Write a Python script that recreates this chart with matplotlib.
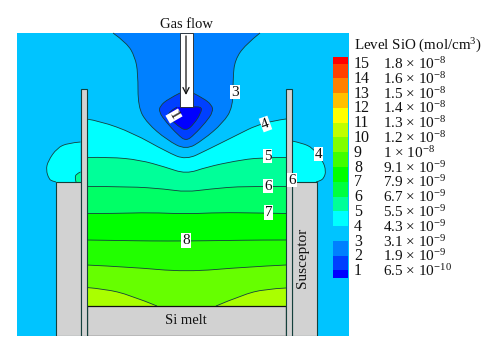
from matplotlib import pyplot as plt
from matplotlib.path import Path
from matplotlib.patches import PathPatch

plt.rcParams['font.family'] = ['Liberation Serif', 'DejaVu Serif']
plt.rcParams['mathtext.default'] = 'regular'
plt.rcParams['font.size'] = 10.5

# colour legend
level_ids = [15, 14, 13, 12, 11, 10, 9, 8, 7, 6, 5, 4, 3, 2, 1]
level_text = ["1.8 × 10$^{-8}$", "1.6 × 10$^{-8}$", "1.5 × 10$^{-8}$", "1.4 × 10$^{-8}$",
              "1.3 × 10$^{-8}$", "1.2 × 10$^{-8}$", "1 × 10$^{-8}$", "9.1 × 10$^{-9}$",
              "7.9 × 10$^{-9}$", "6.7 × 10$^{-9}$", "5.5 × 10$^{-9}$", "4.3 × 10$^{-9}$",
              "3.1 × 10$^{-9}$", "1.9 × 10$^{-9}$", "6.5 × 10$^{-10}$"]
band_colors = ["#ff0000", "#ff4000", "#ff8000", "#ffc000", "#ffff00", "#bfff00", "#80ff00", "#40ff00",
               "#00ff00", "#00ff40", "#00ff99", "#00ffff", "#00c4ff", "#0080ff", "#0040ff", "#0000ff"]
band_edges = [57, 64.3, 78.3, 93.3, 107.7, 122.7, 137.3, 152.3, 167, 181.7, 196.7,
              211.3, 226.3, 241, 255.7, 270, 278]

# contour outlines, in image pixels
c3_x = [113, 127, 135, 138, 138, 147, 167, 186, 203, 223, 233, 233, 235, 245, 260]
c3_y = [33, 43, 57, 73, 107, 123, 140, 150, 140, 123, 107, 77, 60, 45, 33]
c2_x = [180, 168, 160, 159, 166, 178, 186, 194, 206, 213, 212, 203, 193]
c2_y = [93, 99, 106, 112, 122, 135, 141, 135, 122, 112, 105, 98, 93]
c1_x = [177, 168, 169, 178, 186, 194, 201, 202, 193]
c1_y = [107, 112, 118, 126, 131, 124, 113, 106, 107]

bump_l_x = [80.5, 68, 57, 48, 46, 49, 52, 56]
bump_l_y = [142, 143, 148, 161, 170, 179, 181, 182]
bump_r_x = [292, 302, 313, 323, 326, 324, 320, 316]
bump_r_y = [141, 143, 148, 161, 171, 178, 181, 182]
patch_l_x = [80.5, 76, 75, 76]
patch_l_y = [172, 174, 178, 182]

lev4_x = [86.5, 100, 133, 167, 186, 207, 233, 263, 286]
lev4_y = [119, 121, 133, 152, 160, 150, 137, 122, 119]
lev5_x = [86.5, 110, 140, 165, 186, 207, 235, 260, 286]
lev5_y = [157.5, 157, 160, 167, 174, 167, 161, 157.5, 157.5]
lev6_x = [86.5, 130, 165, 186, 210, 245, 286]
lev6_y = [186.5, 186.5, 189, 192, 189, 186, 186.5]
lev7_x = [86.5, 115, 150, 186, 220, 260, 286]
lev7_y = [213.5, 213.5, 212.5, 214, 212.5, 213, 213.5]
lev8_x = [86.5, 120, 150, 186, 225, 260, 286]
lev8_y = [240, 240.5, 241, 241, 240.5, 240, 240]
lev9_x = [86.5, 130, 186, 245, 286]
lev9_y = [265, 267, 272, 267, 265]
lev10_l_x = [86.5, 105, 130, 157]
lev10_l_y = [287.5, 289, 295, 306]
lev10_r_x = [216, 242, 265, 286]
lev10_r_y = [306, 295, 289, 288]

# labels on the contours: text, x, y, rotation
contour_labels = [("3", 235, 92, 0), ("4", 265.5, 124, 20), ("5", 267.5, 156, 0), ("4", 318.5, 154, 0),
                  ("6", 268, 186, 0), ("6", 292, 180, 0), ("7", 268.5, 212.5, 0), ("8", 186, 240.5, 0),
                  ("1", 174, 116, -60)]

edge = "#14403c"
gray = "#d2d2d2"
melt_y = 306
floor_y = 335.5


def curve(xs, ys, tail_x=(), tail_y=()):
    # quadratic curve through the outline points, then straight to the tail points
    verts = [(xs[0], ys[0])]
    codes = [Path.MOVETO]
    for i in range(1, len(xs) - 1):
        if i < len(xs) - 2:
            end = ((xs[i] + xs[i + 1]) / 2, (ys[i] + ys[i + 1]) / 2)
        else:
            end = (xs[i + 1], ys[i + 1])
        verts += [(xs[i], ys[i]), end]
        codes += [Path.CURVE3, Path.CURVE3]
    for x, y in zip(tail_x, tail_y):
        verts.append((x, y))
        codes.append(Path.LINETO)
    return Path(verts, codes)


def zone(ax, xs, ys, col, tail_x=(), tail_y=()):
    ax.add_patch(PathPatch(curve(xs, ys, tail_x, tail_y), fc=col, ec="none", lw=0))
    ax.add_patch(PathPatch(curve(xs, ys), fc="none", ec=edge, lw=0.6))


fig = plt.figure(figsize=(5, 3.53), dpi=100)
ax = fig.add_axes([0, 0, 1, 1])
ax.set_xlim(0, 500)
ax.set_ylim(353, 0)
ax.axis("off")

# flow domain
ax.fill([17, 349, 349, 17], [33, 33, floor_y, floor_y], color="#00c4ff", lw=0)

# blue zones round the tube
zone(ax, c3_x, c3_y, "#0080ff")
zone(ax, c2_x, c2_y, "#0040ff")
zone(ax, c1_x, c1_y, "#0000ff")

# zones above the susceptor
zone(ax, bump_l_x, bump_l_y, "#00ffff", [80.5], [182])
zone(ax, bump_r_x, bump_r_y, "#00ffff", [292], [182])
zone(ax, patch_l_x, patch_l_y, "#00ff99", [80.5], [182])

# stacked zones inside the crucible
stack = [(lev4_x, lev4_y, "#00ffff"), (lev5_x, lev5_y, "#00ff99"), (lev6_x, lev6_y, "#00ff66"),
         (lev7_x, lev7_y, "#00ff00"), (lev8_x, lev8_y, "#22ff00"), (lev9_x, lev9_y, "#66ff00")]
for xs, ys, col in stack:
    zone(ax, xs, ys, col, [286, 86.5], [melt_y, melt_y])
zone(ax, lev10_l_x, lev10_l_y, "#aaff00", [86.5], [melt_y])
zone(ax, lev10_r_x, lev10_r_y, "#aaff00", [286], [melt_y])

# solid parts
ax.fill([56, 80.5, 80.5, 56], [182, 182, floor_y, floor_y], fc=gray, ec=edge, lw=0.8)
ax.fill([292, 317, 317, 292], [182, 182, floor_y, floor_y], fc=gray, ec=edge, lw=0.8)
ax.fill([86.5, 286, 286, 86.5], [melt_y, melt_y, floor_y, floor_y], fc=gray, ec="#111111", lw=0.9)
ax.fill([80.5, 86.5, 86.5, 80.5], [88.5, 88.5, floor_y, floor_y], fc=gray, ec=edge, lw=0.8)
ax.fill([286, 292, 292, 286], [88.5, 88.5, floor_y, floor_y], fc=gray, ec=edge, lw=0.8)
ax.fill([17, 349, 349, 17], [335.5, 335.5, 353, 353], color="white", lw=0)

# gas tube and arrow
ax.fill([180, 193, 193, 180], [33, 33, 107, 107], fc="white", ec="#222222", lw=0.6)
ax.annotate("", xy=(186, 95), xytext=(186, 36),
            arrowprops=dict(arrowstyle="->", color="#111111", lw=0.9, mutation_scale=11, shrinkA=0, shrinkB=0))

for txt, x, y, rot in contour_labels:
    ax.text(x, y, txt, ha="center", va="center", rotation=rot, fontsize=11, color="#111111",
            bbox=dict(fc="white", ec="none", pad=0.6))

ax.text(187, 25, "Gas flow", ha="center", va="center", color="#111111")
ax.text(186, 321, "Si melt", ha="center", va="center", color="#111111")
ax.text(303, 258, "Susceptor", ha="center", va="center", rotation=90, fontsize=11, color="#111111")

# legend
for i, col in enumerate(band_colors):
    ax.fill([333, 348, 348, 333], [band_edges[i], band_edges[i], band_edges[i + 1], band_edges[i + 1]],
            color=col, lw=0)
ax.text(354, 46, "Level SiO (mol/cm$^3$)", ha="left", va="center", fontsize=10.8, color="#111111")
for i, (lev, txt) in enumerate(zip(level_ids, level_text)):
    ypos = 64 + i * 14.8
    ax.text(354, ypos, str(lev), ha="left", va="center", fontsize=11.5, color="#111111")
    ax.text(383, ypos, txt, ha="left", va="center", fontsize=11, color="#111111")

fig.savefig("out.png", dpi=100)
